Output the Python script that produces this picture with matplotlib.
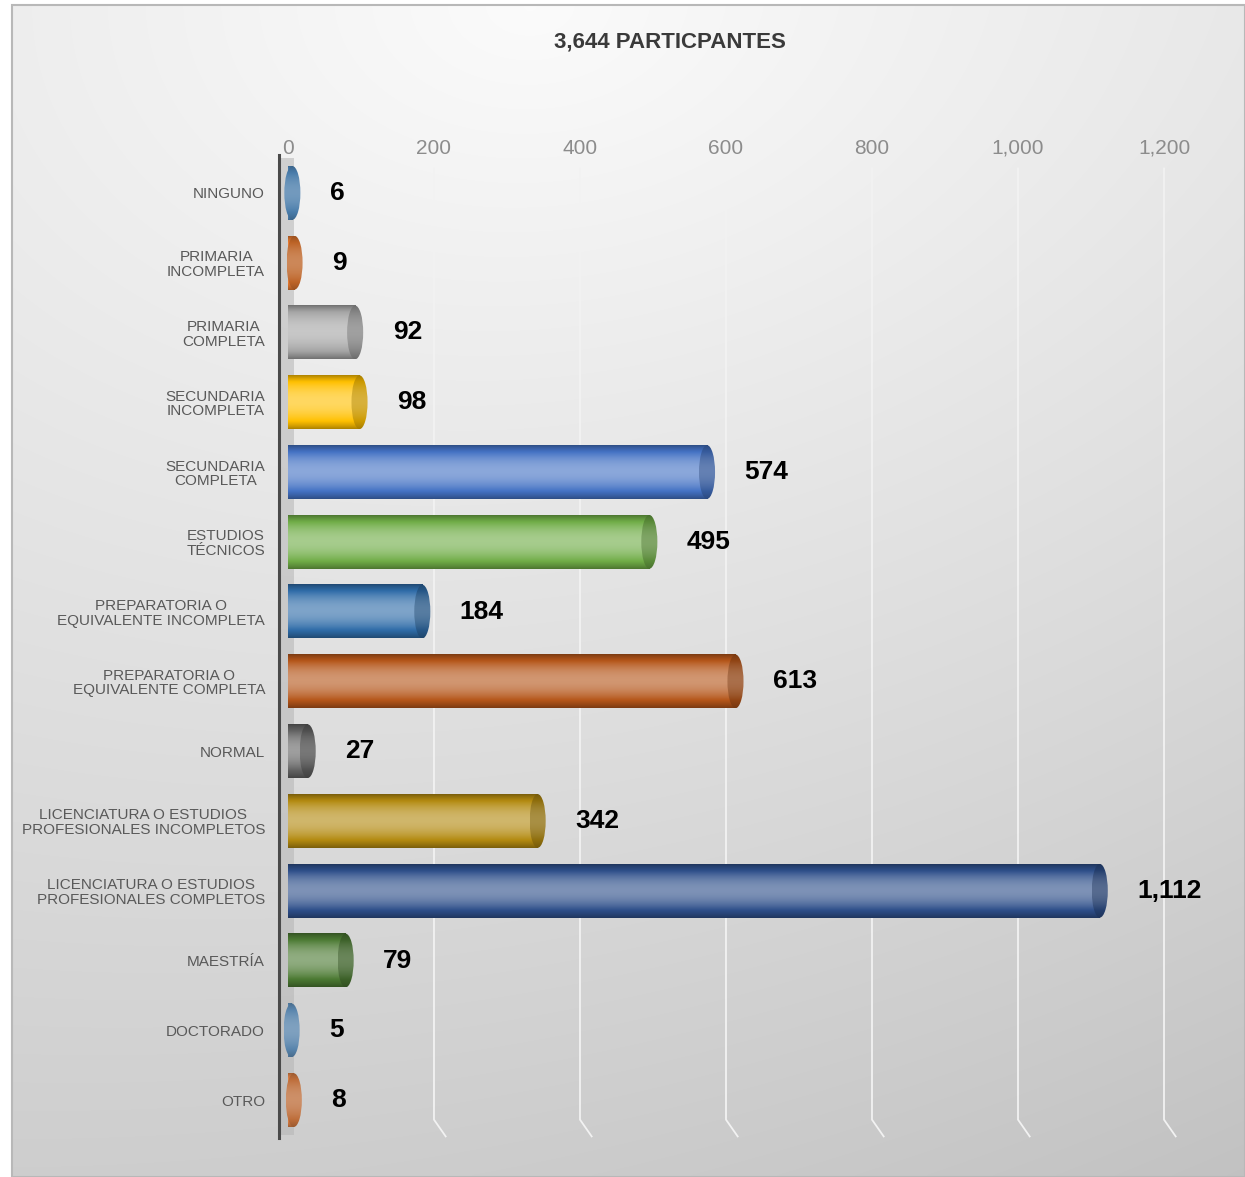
import numpy as np
import matplotlib
matplotlib.use('Agg')
import matplotlib.pyplot as plt
from matplotlib.patches import Ellipse, Rectangle
from matplotlib.ticker import FuncFormatter

plt.rcParams['font.family'] = ['Liberation Sans', 'DejaVu Sans']

title = '3,644 PARTICPANTES'
categories = ['NINGUNO', 'PRIMARIA\nINCOMPLETA', 'PRIMARIA\nCOMPLETA', 'SECUNDARIA\nINCOMPLETA',
              'SECUNDARIA\nCOMPLETA', 'ESTUDIOS\nTÉCNICOS', 'PREPARATORIA O\nEQUIVALENTE INCOMPLETA',
              'PREPARATORIA O\nEQUIVALENTE COMPLETA', 'NORMAL',
              'LICENCIATURA O ESTUDIOS\nPROFESIONALES INCOMPLETOS',
              'LICENCIATURA O ESTUDIOS\nPROFESIONALES COMPLETOS', 'MAESTRÍA', 'DOCTORADO', 'OTRO']
values = [6, 9, 92, 98, 574, 495, 184, 613, 27, 342, 1112, 79, 5, 8]
colors = ['#5B9BD5', '#ED7D31', '#A5A5A5', '#FFC000', '#4472C4', '#70AD47', '#2F6CA8',
          '#B5561A', '#636363', '#B38A10', '#2E4F8A', '#4C7A33', '#6FA6D8', '#EE8A4A']
xticks = [0, 200, 400, 600, 800, 1000, 1200]

W, H = 1245, 1177
fig = plt.figure(figsize=(W / 100, H / 100), dpi=100)
fig.patch.set_facecolor('white')

# chart-area background: soft radial grey gradient
bg = fig.add_axes([12 / W, 0, 1 - 12 / W, 1 - 5 / H], zorder=0)
yy, xx = np.mgrid[0:1:300j, 0:1:300j]
d = np.sqrt(((xx - 0.42) * 0.75) ** 2 + yy ** 2)
val = np.clip(0.985 - 0.17 * d - 0.04 * xx * yy, 0, 1)
bg.imshow(np.dstack([val, val, val]), extent=(0, 1, 1, 0), aspect='auto', interpolation='bilinear')
bg.set_xlim(0, 1)
bg.set_ylim(1, 0)
bg.axis('off')
fig.add_artist(Rectangle((12 / W, 0), 1 - 12 / W, 1 - 5 / H, transform=fig.transFigure,
                         fill=False, edgecolor='#b8b8b8', lw=1.5, zorder=1))

fig.text(670 / W, 1 - 42 / H, title, ha='center', va='center', fontsize=16,
         fontweight='bold', color='#3a3a3a')

ax = fig.add_axes([279 / W, 1 - 1135 / H, (1187 - 279) / W, (1135 - 158) / H], zorder=2)
ax.patch.set_alpha(0)
xmin, xmax = -12.3, 1231.5
n = len(values)


def shade(c, t, amp=1.0):
    c = np.array(matplotlib.colors.to_rgb(c))
    p = (-0.32 + 0.70 * np.sin(np.pi * t ** 0.95) ** 0.9) * amp
    p = p[:, None]
    return np.where(p < 0, c * (1 + p), c + (1 - c) * p)


t = np.linspace(0, 1, 120)
h = 0.77
capw = 22  # data units (~16 px)

# gridlines with the little 3D floor kink at the bottom
for xt in xticks[1:]:
    ax.plot([xt, xt, xt + 16], [-0.35, 13.28, 13.52], color='#f2f2f2', lw=1.3,
            zorder=1, clip_on=False)

# side wall
ax.axvspan(xmin, 8, color='#b5b5b5', alpha=0.55, zorder=1, lw=0)
ax.plot([xmin, xmin], [-0.55, 13.55], color='#4a4a4a', lw=2.2, zorder=2, clip_on=False)

for i, (v, c) in enumerate(zip(values, colors)):
    body = shade(c, t)[:, None, :].repeat(2, axis=1)
    ax.imshow(body, extent=(0, v, i + h / 2, i - h / 2), aspect='auto',
              interpolation='bilinear', zorder=3)
    cap_c = np.array(matplotlib.colors.to_rgb(c)) * 0.8
    cap = shade(cap_c, t, amp=0.6)[:, None, :].repeat(2, axis=1)
    el = Ellipse((v, i), capw, h, facecolor='none', edgecolor='none', zorder=4)
    ax.add_patch(el)
    im = ax.imshow(cap, extent=(v - capw / 2, v + capw / 2, i + h / 2, i - h / 2),
                   aspect='auto', interpolation='bilinear', zorder=4)
    im.set_clip_path(el)
    ax.annotate(f'{v:,}', xy=(v, i), xytext=(27, 0), textcoords='offset points',
                ha='left', va='center', fontsize=19, fontweight='bold', color='black',
                zorder=5)

ax.set_xlim(xmin, xmax)
ax.set_ylim(n - 0.5, -0.5)
ax.set_yticks(range(n))
ax.set_yticklabels(categories, fontsize=11, color='#595959', multialignment='center',
                   linespacing=1.05)
ax.set_xticks(xticks)
ax.xaxis.set_major_formatter(FuncFormatter(lambda x, p: f'{int(x):,}'))
ax.xaxis.tick_top()
ax.tick_params(axis='x', length=0, pad=0, labelsize=15, labelcolor='#8c8c8c')
ax.tick_params(axis='y', length=0, pad=10)
for s in ax.spines.values():
    s.set_visible(False)

fig.savefig('out.png', dpi=100)
